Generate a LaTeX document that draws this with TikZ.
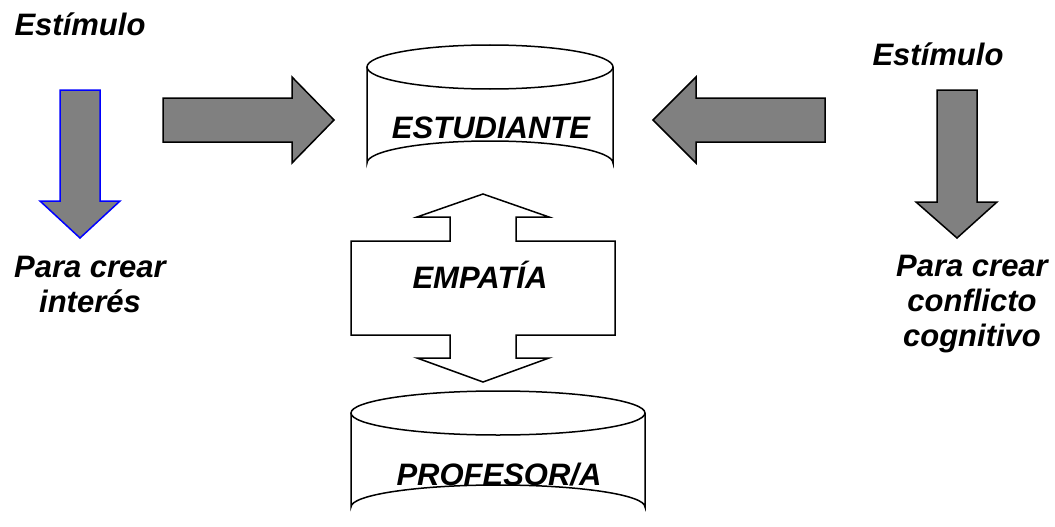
\documentclass[tikz,border=0pt]{standalone}
\usepackage{fontspec}
\setmainfont{Liberation Sans}
\usepackage{xcolor}
\definecolor{mygray}{gray}{0.5}
\definecolor{myblue}{rgb}{0,0,1}

\begin{document}
\begin{tikzpicture}[x=1pt, y=-1pt, line width=1.5pt,
  txt/.style={font=\bfseries\itshape\fontsize{31}{35}\selectfont, inner sep=0pt, align=center, anchor=base},
  blockarrow/.style={draw=black, fill=mygray, line join=miter}]
\useasboundingbox (0,0) rectangle (1055,527);
% cylinders
\draw[fill=white] (367,67) -- (367,163) arc[start angle=180, end angle=360, x radius=123, y radius=22] -- (613,67);
\draw[fill=white] (490,67) ellipse[x radius=123, y radius=22];
\draw[fill=white] (351,413) -- (351,507) arc[start angle=180, end angle=360, x radius=147, y radius=22] -- (645,413);
\draw[fill=white] (498,413) ellipse[x radius=147, y radius=22];
\node[txt] (est) at (491,138) {ESTUDIANTE};
\node[txt] (prof) at (499,485) {PROFESOR/A};
% empathy arrow
\draw[fill=white, line join=miter] (483,194) -- (549,217) -- (516,217) -- (516,241) -- (615,241)
  -- (615,335) -- (516,335) -- (516,358) -- (549,358) -- (483,382) -- (417,358) -- (450,358)
  -- (450,335) -- (351,335) -- (351,241) -- (450,241) -- (450,217) -- (417,217) -- cycle;
\node[txt] (emp) at (480,288) {EMPATÍA};
% stimulus arrows
\draw[blockarrow, draw=myblue] (60,90) -- (100,90) -- (100,201) -- (120,201) -- (80,238) -- (40,201) -- (60,201) -- cycle;
\draw[blockarrow] (163,98) -- (292,98) -- (292,77) -- (334,120) -- (292,163) -- (292,142) -- (163,142) -- cycle;
\draw[blockarrow] (825,98) -- (696,98) -- (696,77) -- (653,120) -- (696,163) -- (696,142) -- (825,142) -- cycle;
\draw[blockarrow] (937,90) -- (977,90) -- (977,202) -- (997,202) -- (957,238) -- (916,202) -- (937,202) -- cycle;
% labels (base = last line)
\node[txt] (estl) at (80,36) {Estímulo};
\node[txt] (estr) at (938,66) {Estímulo};
\node[txt] (parl) at (90,312) {Para crear\\interés};
\node[txt] (parr) at (972,346) {Para crear\\conflicto\\cognitivo};
\end{tikzpicture}
\end{document}
